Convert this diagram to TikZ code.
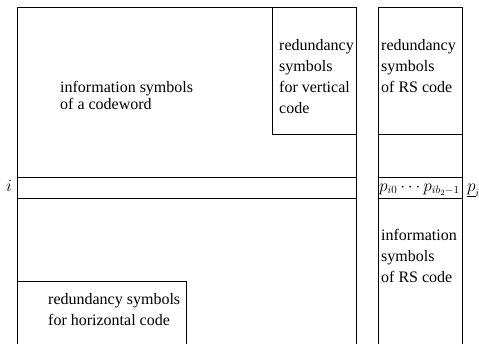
\documentclass[tikz,border=0pt]{standalone}
\usepackage{fontspec}
\setmainfont{Liberation Serif}
\begin{document}
\begin{tikzpicture}[x=1pt,y=-1pt,
  frame/.style={draw=black,line width=0.9pt},
  % base anchor of a multi-line node sits on its last line
  txt/.style={anchor=base west,inner sep=0pt,align=left,
    font=\fontsize{16}{21}\selectfont},
  tighttxt/.style={txt,font=\fontsize{16}{17}\selectfont},
  mathtxt/.style={anchor=base west,inner sep=0pt,font=\fontsize{16}{18}\selectfont}]
\useasboundingbox (0,0) rectangle (479,343);
\clip (0,0) rectangle (479,343);

% codeword array (continues below the visible part)
\draw[frame] (17,360) -- (17,7) -- (356,7) -- (356,360);
% vertical-code redundancy block
\draw[frame] (272,7) -- (272,134) -- (356,134);
% row i
\draw[frame] (17,177) -- (356,177);
\draw[frame] (17,198) -- (356,198);
% horizontal-code redundancy block
\draw[frame] (17,281) -- (186,281) -- (186,360);

% RS code column
\draw[frame] (378,360) -- (378,7) -- (462,7) -- (462,360);
\draw[frame] (378,134) -- (462,134);
\draw[frame] (378,177) -- (462,177);
\draw[frame] (378,198) -- (462,198);

% labels
\node[tighttxt] (info) at (60,109) {information symbols\\of a codeword};
\node[txt] (vred) at (279,113) {redundancy\\symbols\\for vertical\\code};
\node[txt] (rsred) at (381,92) {redundancy\\symbols\\of RS code};
\node[txt] (hred) at (48,325) {redundancy symbols\\for horizontal code};
\node[txt] (rsinfo) at (381,282) {information\\symbols\\of RS code};
\node[mathtxt] (rowi) at (6,191) {$i$};
\node[mathtxt] (prow) at (379,191) {$p_{i0}\cdots p_{ib_2-1}$};
\node[mathtxt] (pcol) at (467,191) {$\underline{p}_{i}$};
\end{tikzpicture}
\end{document}
